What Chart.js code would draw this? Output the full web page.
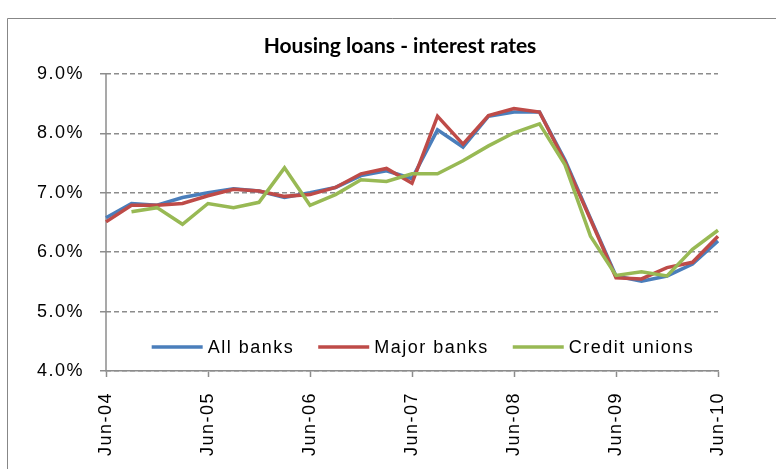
<!DOCTYPE html>
<html>
<head>
<meta charset="utf-8">
<script src="https://cdn.jsdelivr.net/npm/chart.js@4/dist/chart.umd.min.js"></script>
<style>
  html, body { margin: 0; padding: 0; background: #ffffff; }
  #wrap { width: 776px; height: 469px; }
</style>
</head>
<body>
<div id="wrap"><canvas id="c" width="776" height="469"></canvas></div>
<script>
// Quarterly observations, Jun-04 .. Jun-10
const quarters = [
  'Jun-04', 'Sep-04', 'Dec-04', 'Mar-05',
  'Jun-05', 'Sep-05', 'Dec-05', 'Mar-06',
  'Jun-06', 'Sep-06', 'Dec-06', 'Mar-07',
  'Jun-07', 'Sep-07', 'Dec-07', 'Mar-08',
  'Jun-08', 'Sep-08', 'Dec-08', 'Mar-09',
  'Jun-09', 'Sep-09', 'Dec-09', 'Mar-10',
  'Jun-10'
];

// Housing loan interest rates, per cent
const allBanks = [
  6.58, 6.82, 6.79, 6.92,
  7.00, 7.07, 7.03, 6.92,
  7.00, 7.09, 7.29, 7.37,
  7.24, 8.06, 7.77, 8.29,
  8.36, 8.36, 7.55, 6.57,
  5.60, 5.51, 5.60, 5.80,
  6.19
];
const majorBanks = [
  6.51, 6.79, 6.79, 6.82,
  6.95, 7.06, 7.03, 6.94,
  6.97, 7.09, 7.32, 7.41,
  7.16, 8.29, 7.82, 8.30,
  8.42, 8.36, 7.52, 6.55,
  5.57, 5.55, 5.74, 5.83,
  6.27
];
const creditUnions = [
  null, 6.68, 6.75, 6.47,
  6.82, 6.75, 6.84, 7.42,
  6.79, 6.97, 7.22, 7.19,
  7.32, 7.32, 7.54, 7.79,
  8.01, 8.16, 7.47, 6.27,
  5.61, 5.67, 5.60, 6.05,
  6.37
];

const seriesNames = ['All banks', 'Major banks', 'Credit unions'];
const seriesColors = ['#4A7EBB', '#BE4B48', '#98B954'];
const yTicks = [4, 5, 6, 7, 8, 9];
const chartTitle = 'Housing loans - interest rates';

const AXIS_GREY = '#8C8C8C';
const TEXT_FONT = "'Liberation Sans', Arial, sans-serif";

// Frame, heading, solid value axis and an in-plot legend
const decorations = {
  id: 'decorations',
  beforeDraw(chart) {
    const ctx = chart.ctx;
    ctx.save();
    ctx.fillStyle = '#ffffff';
    ctx.fillRect(0, 0, chart.width, chart.height);
    ctx.strokeStyle = '#878787';
    ctx.lineWidth = 1;
    ctx.beginPath();
    ctx.moveTo(7.5, chart.height + 2);
    ctx.lineTo(7.5, 18.5);
    ctx.lineTo(chart.width + 2, 18.5);
    ctx.stroke();

    ctx.fillStyle = '#000000';
    ctx.font = "bold 21px Lato, 'Open Sans', sans-serif";
    ctx.textAlign = 'center';
    ctx.textBaseline = 'alphabetic';
    ctx.fillText(chartTitle, 400, 53);
    ctx.restore();
    // axis and legend lettering is set slightly loose
    ctx.letterSpacing = '1.5px';
  },
  beforeDatasetsDraw(chart) {
    const ctx = chart.ctx;
    const a = chart.chartArea;
    ctx.save();
    ctx.strokeStyle = AXIS_GREY;
    ctx.lineWidth = 1.5;
    ctx.setLineDash([]);
    ctx.beginPath();
    ctx.moveTo(a.left, a.top);
    ctx.lineTo(a.left, a.bottom);
    ctx.stroke();
    ctx.restore();
  },
  afterDraw(chart) {
    const ctx = chart.ctx;
    const sets = chart.data.datasets;
    ctx.save();
    ctx.letterSpacing = '1.5px';
    ctx.font = '18px ' + TEXT_FONT;
    ctx.textBaseline = 'middle';
    ctx.textAlign = 'left';
    const sample = 51, gapText = 5, gapItem = 24;
    const widths = sets.map(d => ctx.measureText(d.label).width);
    const total = widths.reduce((a, w) => a + sample + gapText + w, 0) + gapItem * (sets.length - 1);
    let x = 423 - total / 2;
    const y = 347;
    sets.forEach((d, i) => {
      ctx.strokeStyle = d.borderColor;
      ctx.lineWidth = 3.5;
      ctx.beginPath();
      ctx.moveTo(x, y);
      ctx.lineTo(x + sample, y);
      ctx.stroke();
      ctx.fillStyle = '#000000';
      ctx.fillText(d.label, x + sample + gapText, y + 1);
      x += sample + gapText + widths[i] + gapItem;
    });
    ctx.restore();
  }
};

const seriesData = [allBanks, majorBanks, creditUnions];

new Chart(document.getElementById('c'), {
  type: 'line',
  data: {
    labels: quarters,
    datasets: seriesData.map((values, i) => ({
      label: seriesNames[i],
      data: values,
      borderColor: seriesColors[i],
      backgroundColor: seriesColors[i],
      borderWidth: 3.5,
      pointRadius: 0,
      tension: 0,
      fill: false,
      spanGaps: false,
      order: seriesData.length - i
    }))
  },
  options: {
    responsive: false,
    animation: false,
    devicePixelRatio: 1,
    layout: { padding: { top: 74, left: 0, right: 58, bottom: 0 } },
    plugins: {
      legend: { display: false },
      title: { display: false },
      tooltip: { enabled: false }
    },
    scales: {
      x: {
        type: 'category',
        offset: false,
        border: { display: true, color: AXIS_GREY, width: 1.5 },
        grid: {
          drawOnChartArea: false,
          drawTicks: true,
          tickLength: 6,
          tickWidth: 1.5,
          tickColor: (c) => (c.index % 4 === 0 ? AXIS_GREY : 'rgba(0,0,0,0)')
        },
        ticks: {
          autoSkip: false,
          minRotation: 90,
          maxRotation: 90,
          padding: 15,
          color: '#000000',
          font: { family: TEXT_FONT, size: 18 },
          callback: (v, i) => (i % 4 === 0 ? quarters[i] : '')
        },
        afterFit: (scale) => { scale.height = 98; }
      },
      y: {
        min: yTicks[0],
        max: yTicks[yTicks.length - 1],
        border: { display: false, dash: [5, 3] },
        grid: {
          color: AXIS_GREY,
          lineWidth: 1.5,
          drawTicks: true,
          tickLength: 6,
          tickWidth: 1.5,
          tickColor: AXIS_GREY,
          tickBorderDash: []
        },
        afterBuildTicks: (scale) => { scale.ticks = yTicks.map(v => ({ value: v })); },
        ticks: {
          padding: 16,
          color: '#000000',
          font: { family: TEXT_FONT, size: 18 },
          callback: (v) => v.toFixed(1) + '%'
        },
        afterFit: (scale) => { scale.width = 106; }
      }
    }
  },
  plugins: [decorations]
});
</script>
</body>
</html>
